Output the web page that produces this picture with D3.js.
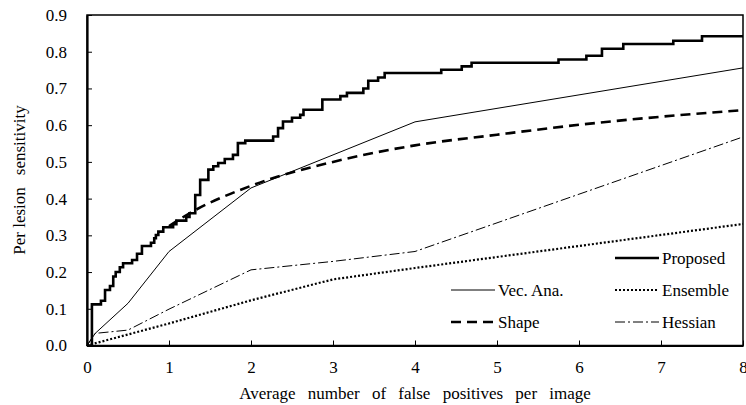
<!DOCTYPE html>
<html>
<head>
  <meta charset="utf-8">
  <script src="https://d3js.org/d3.v7.min.js"></script>
  <style>
    body { margin: 0; background: #fff; }
  </style>
</head>
<body>
  <div id="chart"></div>
  <script>
    // proposed method: step FROC curve (x = FP per image, value after the step)
    var proposedX = [0, 0.06, 0.17, 0.22, 0.28, 0.32, 0.35, 0.40, 0.44, 0.55, 0.61, 0.67, 0.78, 0.82, 0.84, 0.87, 0.93,
      1.05, 1.09, 1.21, 1.25, 1.32, 1.38, 1.48, 1.54, 1.60, 1.68, 1.78, 1.84, 1.93, 2.27, 2.33, 2.39, 2.50, 2.60, 2.64,
      2.87, 3.09, 3.17, 3.37, 3.43, 3.55, 3.63, 4.32, 4.57, 4.69, 5.75, 6.09, 6.28, 6.54, 7.15, 7.50, 8.00];
    var proposedY = [0, 0.112, 0.122, 0.151, 0.162, 0.188, 0.200, 0.213, 0.224, 0.233, 0.250, 0.271, 0.280, 0.292, 0.301, 0.310, 0.322,
      0.330, 0.340, 0.350, 0.360, 0.410, 0.451, 0.479, 0.488, 0.497, 0.508, 0.519, 0.551, 0.558, 0.569, 0.592, 0.610, 0.620, 0.628, 0.642,
      0.670, 0.679, 0.688, 0.700, 0.721, 0.730, 0.742, 0.751, 0.760, 0.770, 0.779, 0.789, 0.808, 0.821, 0.830, 0.842, 0.842];

    var vecX = [0, 0.1, 0.5, 1, 2, 4, 8];
    var vecY = [0, 0.033, 0.115, 0.256, 0.429, 0.609, 0.756];

    var shapeX = [1, 1.22, 2, 3, 4, 5, 6, 7, 8];
    var shapeY = [0.325, 0.356, 0.435, 0.50, 0.545, 0.574, 0.601, 0.623, 0.641];

    var ensembleX = [0, 1, 2, 3, 4, 8];
    var ensembleY = [0, 0.060, 0.123, 0.180, 0.211, 0.331];

    var hessianX = [0, 0.1, 0.5, 1, 2, 3, 4, 8];
    var hessianY = [0, 0.033, 0.042, 0.099, 0.206, 0.229, 0.256, 0.568];

    var xTicks = [0, 1, 2, 3, 4, 5, 6, 7, 8];
    var yTicks = [0, 0.1, 0.2, 0.3, 0.4, 0.5, 0.6, 0.7, 0.8, 0.9];

    var width = 746, height = 405;
    var margin = { top: 15, right: 3, bottom: 59.5, left: 87 };
    var serif = "Liberation Serif";
    var fontSize = 17;

    var svg = d3.select("#chart").append("svg")
      .attr("width", width)
      .attr("height", height)
      .attr("font-family", serif);

    var x = d3.scaleLinear().domain([0, 8]).range([margin.left, width - margin.right]);
    var y = d3.scaleLinear().domain([0, 0.9]).range([height - margin.bottom, margin.top]);

    function zipXY(xs, ys) {
      return xs.map(function (d, i) { return [d, ys[i]]; });
    }

    var series = [
      { name: "Proposed", data: zipXY(proposedX, proposedY), curve: d3.curveStepAfter, width: 2.6, dash: null },
      { name: "Vec. Ana.", data: zipXY(vecX, vecY), curve: d3.curveLinear, width: 1, dash: null },
      { name: "Ensemble", data: zipXY(ensembleX, ensembleY), curve: d3.curveLinear, width: 2.2, dash: "2,2" },
      { name: "Shape", data: zipXY(shapeX, shapeY), curve: d3.curveMonotoneX, width: 2.6, dash: "10,6" },
      { name: "Hessian", data: zipXY(hessianX, hessianY), curve: d3.curveLinear, width: 1, dash: "10,3,2,3" }
    ];

    // frame
    svg.append("rect")
      .attr("x", x(0)).attr("y", y(0.9))
      .attr("width", x(8) - x(0)).attr("height", y(0) - y(0.9))
      .attr("fill", "none").attr("stroke", "#000").attr("stroke-width", 1.5);

    // axes
    var xAxis = svg.append("g")
      .attr("transform", "translate(0," + y(0) + ")")
      .call(d3.axisBottom(x).tickValues(xTicks).tickFormat(d3.format("d"))
        .tickSizeInner(-5).tickSizeOuter(0).tickPadding(15.5));

    var yAxis = svg.append("g")
      .attr("transform", "translate(" + x(0) + ",0)")
      .call(d3.axisLeft(y).tickValues(yTicks).tickFormat(d3.format(".1f"))
        .tickSizeInner(-5).tickSizeOuter(0).tickPadding(20));

    [xAxis, yAxis].forEach(function (a) {
      a.attr("font-family", serif).attr("font-size", fontSize);
      a.select(".domain").attr("stroke-width", 2.2);
      a.selectAll(".tick line").attr("stroke-width", 1);
    });

    // lines
    var line = d3.line()
      .x(function (d) { return x(d[0]); })
      .y(function (d) { return y(d[1]); });

    svg.append("g").selectAll("path")
      .data(series.slice().reverse())
      .enter().append("path")
      .attr("fill", "none")
      .attr("stroke", "#000")
      .attr("stroke-width", function (d) { return d.width; })
      .attr("stroke-dasharray", function (d) { return d.dash; })
      .attr("d", function (d) { return line.curve(d.curve)(d.data); });

    // legend
    var legendPos = {
      "Proposed": [615, 258], "Vec. Ana.": [451, 290], "Ensemble": [615, 290],
      "Shape": [451, 322], "Hessian": [615, 322]
    };
    var lg = svg.append("g").selectAll("g")
      .data(series).enter().append("g")
      .attr("transform", function (d) { return "translate(" + legendPos[d.name] + ")"; });

    lg.append("line")
      .attr("x1", 0).attr("x2", 44)
      .attr("stroke", "#000")
      .attr("stroke-width", function (d) { return d.width; })
      .attr("stroke-dasharray", function (d) { return d.dash; });

    lg.append("text")
      .attr("x", 47).attr("y", 5.5)
      .attr("font-size", fontSize)
      .text(function (d) { return d.name; });

    // axis titles
    svg.append("text")
      .attr("x", x(4)).attr("y", 399)
      .attr("text-anchor", "middle")
      .attr("font-size", fontSize)
      .attr("word-spacing", 8)
      .text("Average number of false positives per image");

    var yTitle = svg.append("text")
      .attr("transform", "translate(25,180) rotate(-90)")
      .attr("text-anchor", "middle")
      .attr("font-size", fontSize);
    yTitle.append("tspan").text("Per lesion");
    yTitle.append("tspan").attr("dx", 12).text("sensitivity");
  </script>
</body>
</html>
